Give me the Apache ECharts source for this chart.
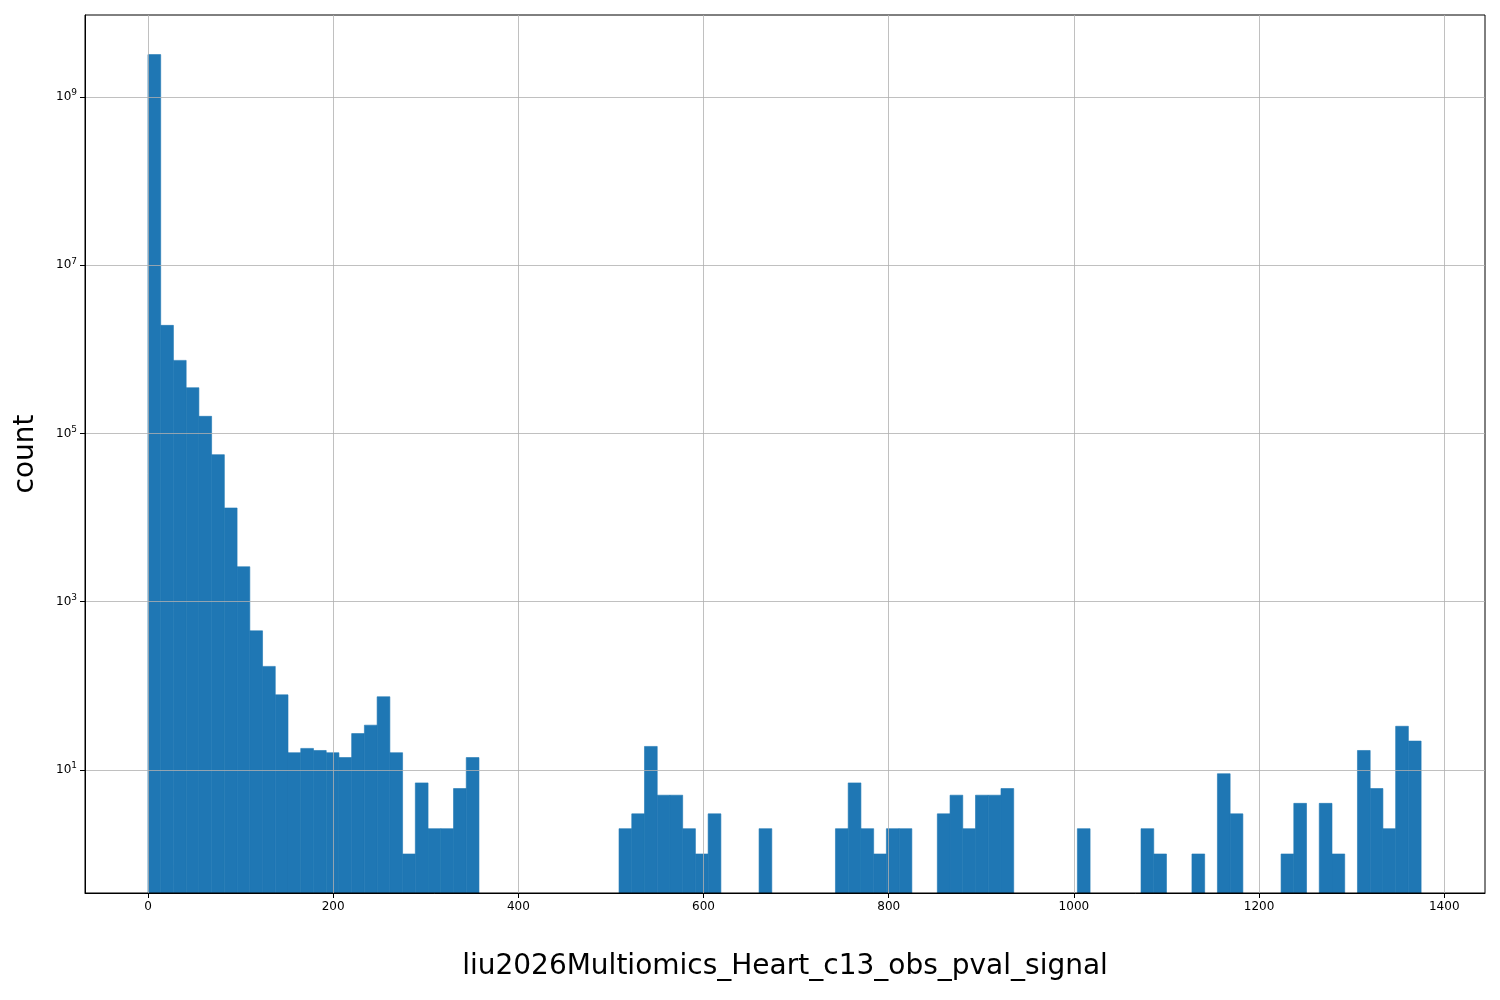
<!DOCTYPE html>
<html><head><meta charset="utf-8">
<script src="https://cdn.jsdelivr.net/npm/echarts@6/dist/echarts.min.js"></script>
<style>html,body{margin:0;padding:0;background:#fff}#c{width:1500px;height:1000px}</style>
</head><body><div id="c"></div>
<script>
const binStart = 0;
const binWidth = 13.75;
const counts = [
3.2e9,1.93e6,7.4e5,3.5e5,1.6e5,5.6e4,1.3e4,2600,450,170,
78,16,18,17,16,14,27,34,74,16,
1,7,2,2,6,14,0,0,0,0,
0,0,0,0,0,0,0,2,3,19,
5,5,2,1,3,0,0,0,2,0,
0,0,0,0,2,7,2,1,2,2,
0,0,3,5,2,5,5,6,0,0,
0,0,0,2,0,0,0,0,2,1,
0,0,1,0,9,3,0,0,0,1,
4,0,4,1,0,17,6,2,33,22];
const xTicks = [0,200,400,600,800,1000,1200,1400];
const yTickExps = [1,3,5,7,9];
const yMinExp = -0.464, yMaxExp = 9.976;

const data = counts.map((c,i)=>[binStart+i*binWidth, binStart+(i+1)*binWidth, c]).filter(d=>d[2]>0);
const chart = echarts.init(document.getElementById('c'));
const gridLine = {show:true, lineStyle:{color:'#b0b0b0', width:0.8}};
const axLine = {show:true,onZero:false,lineStyle:{color:'#000',width:1}};
chart.setOption({
  animation:false,
  grid:{left:85,right:15,top:15,bottom:107,show:true,borderColor:'#000',borderWidth:1,backgroundColor:'transparent'},
  xAxis:{type:'value',min:-68,max:1444,
    name:'liu2026Multiomics_Heart_c13_obs_pval_signal',nameLocation:'middle',nameGap:60,
    nameTextStyle:{fontSize:28,color:'#000',fontFamily:'DejaVu Sans'},
    axisLine:axLine,
    axisTick:{show:true,inside:false,length:5,lineStyle:{color:'#000'},customValues:xTicks},
    axisLabel:{color:'#000',fontSize:12,fontFamily:'DejaVu Sans',margin:8,customValues:xTicks,formatter:v=>String(v)},
    splitLine:gridLine},
  yAxis:{type:'value',min:yMinExp,max:yMaxExp,
    name:'count',nameLocation:'middle',nameGap:45,
    nameTextStyle:{fontSize:28,color:'#000',fontFamily:'DejaVu Sans'},
    axisLine:axLine,
    axisTick:{show:true,inside:false,length:5,lineStyle:{color:'#000'},customValues:yTickExps},
    axisLabel:{color:'#000',fontSize:12,fontFamily:'DejaVu Sans',margin:8,customValues:yTickExps,
      formatter:v=>'10{s|'+Math.round(v)+'}',
      rich:{s:{fontSize:9,verticalAlign:'top',padding:[0,0,8,0],color:'#000',fontFamily:'DejaVu Sans'}}},
    splitLine:gridLine},
  series:[{type:'custom',z:-1,
    data:data.map(d=>[d[0],d[1],Math.log10(d[2])]),
    renderItem:(params,api)=>{
      const p0 = api.coord([api.value(0), api.value(2)]);
      const p1 = api.coord([api.value(1), yMinExp]);
      return {type:'rect',shape:{x:p0[0],y:p0[1],width:p1[0]-p0[0],height:p1[1]-p0[1]},
        style:{fill:'#1f77b4',stroke:'#1f77b4',lineWidth:0.6}};
    },
    encode:{x:[0,1],y:2}}]
});
</script></body></html>
